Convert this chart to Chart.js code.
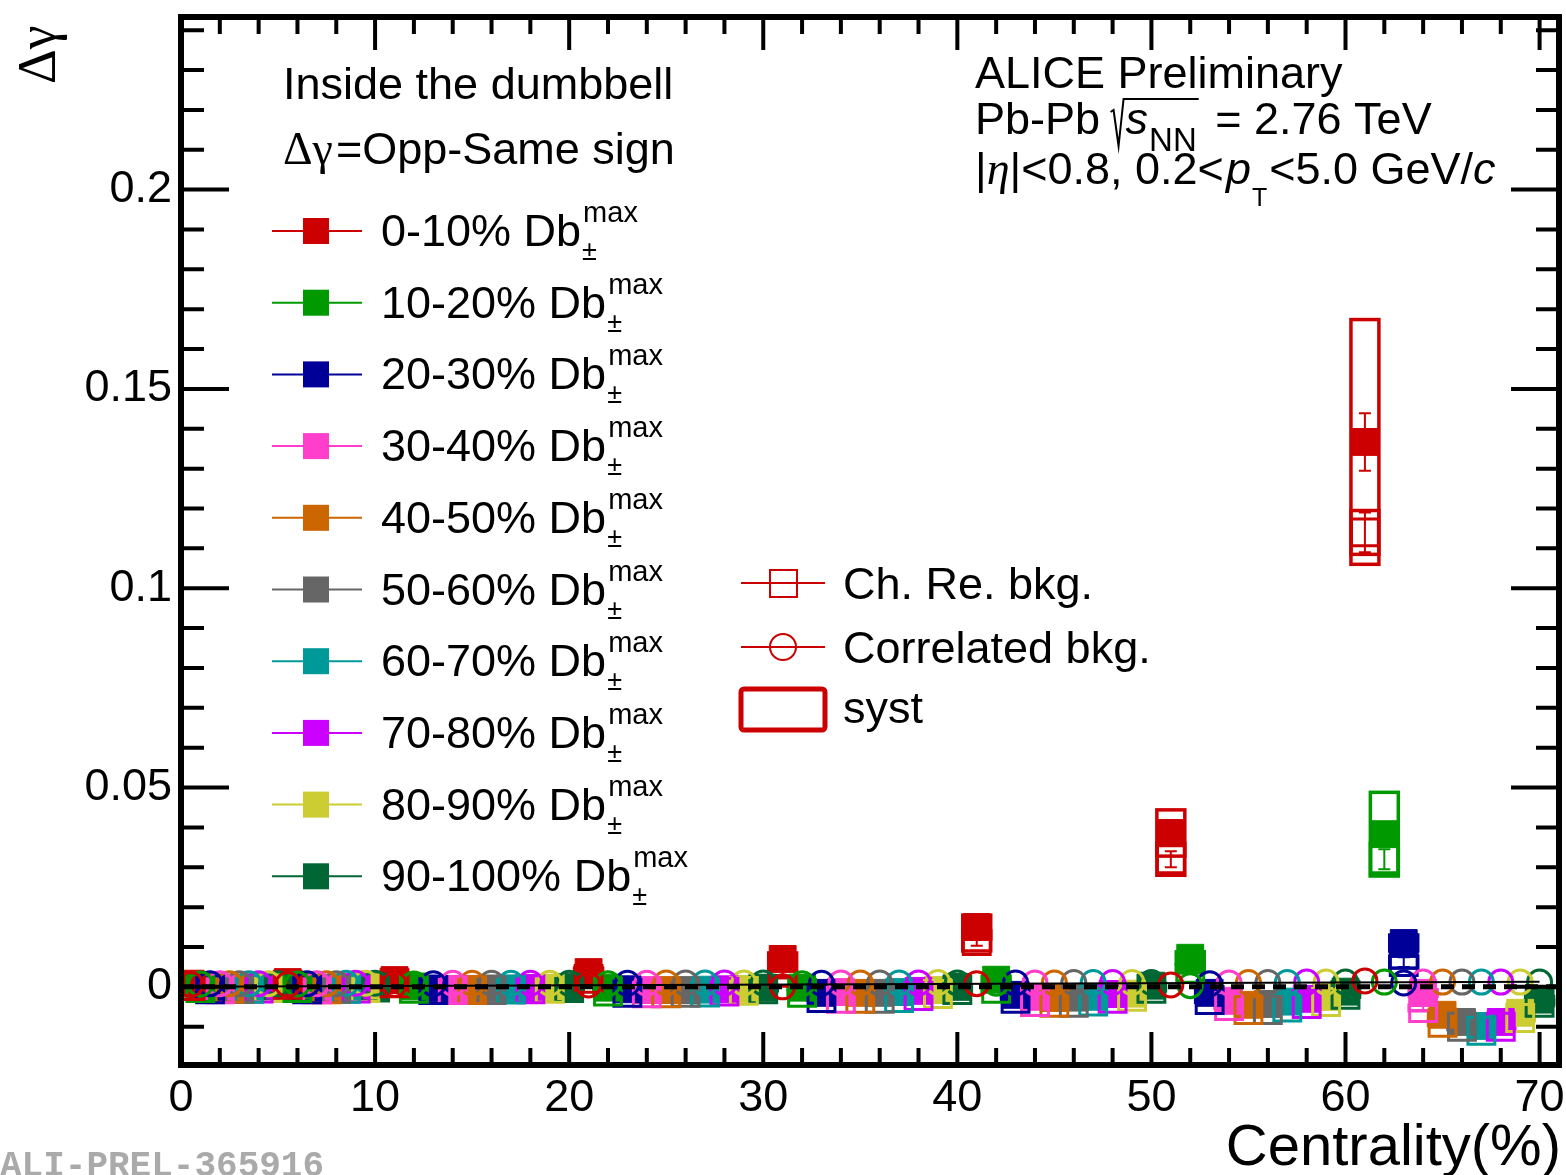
<!DOCTYPE html>
<html lang="en">
  <head>
    <meta charset="UTF-8" />
    <title>Delta gamma vs centrality</title>
    <script src="https://cdn.jsdelivr.net/npm/chart.js"></script>
    <style>
      html, body { margin: 0; padding: 0; background: #fff; overflow: hidden; }
      canvas { display: block; }
    </style>
  </head>
  <body>
    <canvas id="chart" width="1566" height="1175"></canvas>
    <script>
      // centrality bins, each split in 10 Db classes
      const centralityEdges = [0, 5, 10, 20, 30, 40, 50, 60, 70];
      const xTicks = [0, 10, 20, 30, 40, 50, 60, 70];
      const yTicks = [0, 0.05, 0.1, 0.15, 0.2];

      const classLabels = ["0-10%", "10-20%", "20-30%", "30-40%", "40-50%",
        "50-60%", "60-70%", "70-80%", "80-90%", "90-100%"];
      const classColors = ["#cc0000", "#009900", "#000099", "#ff3fcc", "#cc6600",
        "#666666", "#009999", "#cc00ff", "#cccc33", "#006633"];

      // Δγ (filled squares)
      const dGamma = [
        [0.0008, 0.0012, 0.0017, 0.0037, 0.0070, 0.0150, 0.0386, 0.1367],
        [0.0002, 0.0003, 0.0001, -0.0002, -0.0002, 0.0018, 0.0073, 0.0383],
        [-0.0002, -0.0002, -0.0004, -0.0006, -0.0015, -0.0020, -0.0015, 0.0110],
        [-0.0003, -0.0003, -0.0005, -0.0008, -0.0013, -0.0025, -0.0035, -0.0015],
        [-0.0002, -0.0003, -0.0005, -0.0008, -0.0015, -0.0028, -0.0045, -0.0070],
        [-0.0002, -0.0002, -0.0004, -0.0008, -0.0015, -0.0027, -0.0043, -0.0088],
        [-0.0002, -0.0002, -0.0004, -0.0007, -0.0013, -0.0025, -0.0037, -0.0098],
        [-0.0002, -0.0002, -0.0003, -0.0006, -0.0010, -0.0018, -0.0030, -0.0088],
        [-0.0001, -0.0001, -0.0002, -0.0005, -0.0008, -0.0017, -0.0025, -0.0065],
        [0.0000, 0.0000, -0.0001, -0.0002, 0.0000, 0.0003, -0.0012, -0.0032],
      ];
      const dgStat = [
        [0.0003, 0.0003, 0.0004, 0.0006, 0.0010, 0.0015, 0.0025, 0.0072],
        [0.0003, 0.0003, 0.0003, 0.0004, 0.0005, 0.0006, 0.0010, 0.0030],
        [0.0003, 0.0003, 0.0003, 0.0003, 0.0004, 0.0005, 0.0006, 0.0015],
        [0.0003, 0.0003, 0.0003, 0.0003, 0.0004, 0.0005, 0.0006, 0.0008],
        [0.0003, 0.0003, 0.0003, 0.0003, 0.0004, 0.0005, 0.0006, 0.0008],
        [0.0003, 0.0003, 0.0003, 0.0003, 0.0004, 0.0005, 0.0006, 0.0008],
        [0.0003, 0.0003, 0.0003, 0.0003, 0.0004, 0.0005, 0.0006, 0.0008],
        [0.0003, 0.0003, 0.0003, 0.0003, 0.0004, 0.0005, 0.0006, 0.0008],
        [0.0003, 0.0003, 0.0003, 0.0003, 0.0004, 0.0005, 0.0006, 0.0008],
        [0.0003, 0.0003, 0.0003, 0.0003, 0.0004, 0.0005, 0.0006, 0.0008],
      ];
      const dgSyst = [
        [0.0005, 0.0006, 0.0008, 0.0010, 0.0015, 0.0030, 0.0058, 0.0307],
        [0.0004, 0.0004, 0.0005, 0.0005, 0.0005, 0.0008, 0.0015, 0.0105],
        [0.0004, 0.0004, 0.0004, 0.0005, 0.0005, 0.0006, 0.0006, 0.0020],
        [0.0004, 0.0004, 0.0004, 0.0005, 0.0005, 0.0006, 0.0007, 0.0008],
        [0.0004, 0.0004, 0.0004, 0.0005, 0.0005, 0.0006, 0.0007, 0.0008],
        [0.0004, 0.0004, 0.0004, 0.0005, 0.0005, 0.0006, 0.0007, 0.0008],
        [0.0004, 0.0004, 0.0004, 0.0005, 0.0005, 0.0006, 0.0007, 0.0008],
        [0.0004, 0.0004, 0.0004, 0.0005, 0.0005, 0.0006, 0.0007, 0.0008],
        [0.0004, 0.0004, 0.0004, 0.0005, 0.0005, 0.0006, 0.0007, 0.0008],
        [0.0004, 0.0004, 0.0004, 0.0005, 0.0005, 0.0006, 0.0007, 0.0008],
      ];

      // Ch. Re. bkg (open squares)
      const chReBkg = [
        [0.0002, 0.0005, 0.0009, 0.0020, 0.0035, 0.0115, 0.0320, 0.1140],
        [-0.0003, -0.0003, -0.0005, -0.0012, -0.0015, -0.0005, 0.0045, 0.0320],
        [-0.0006, -0.0006, -0.0008, -0.0015, -0.0028, -0.0030, -0.0033, 0.0062],
        [-0.0006, -0.0006, -0.0008, -0.0016, -0.0030, -0.0038, -0.0048, -0.0053],
        [-0.0005, -0.0006, -0.0008, -0.0016, -0.0030, -0.0040, -0.0058, -0.0090],
        [-0.0005, -0.0005, -0.0008, -0.0015, -0.0030, -0.0040, -0.0058, -0.0100],
        [-0.0005, -0.0005, -0.0007, -0.0014, -0.0028, -0.0037, -0.0052, -0.0110],
        [-0.0004, -0.0004, -0.0006, -0.0012, -0.0023, -0.0030, -0.0043, -0.0100],
        [-0.0003, -0.0003, -0.0005, -0.0010, -0.0018, -0.0025, -0.0038, -0.0078],
        [-0.0002, -0.0002, -0.0003, -0.0006, -0.0008, -0.0005, -0.0020, -0.0040],
      ];
      const chStat = [
        [0.0003, 0.0003, 0.0003, 0.0005, 0.0008, 0.0012, 0.0020, 0.0050],
        [0.0003, 0.0003, 0.0003, 0.0003, 0.0004, 0.0005, 0.0008, 0.0025],
        [0.0003, 0.0003, 0.0003, 0.0003, 0.0003, 0.0004, 0.0005, 0.0012],
        [0.0003, 0.0003, 0.0003, 0.0003, 0.0003, 0.0004, 0.0005, 0.0006],
        [0.0003, 0.0003, 0.0003, 0.0003, 0.0003, 0.0004, 0.0005, 0.0006],
        [0.0003, 0.0003, 0.0003, 0.0003, 0.0003, 0.0004, 0.0005, 0.0006],
        [0.0003, 0.0003, 0.0003, 0.0003, 0.0003, 0.0004, 0.0005, 0.0006],
        [0.0003, 0.0003, 0.0003, 0.0003, 0.0003, 0.0004, 0.0005, 0.0006],
        [0.0003, 0.0003, 0.0003, 0.0003, 0.0003, 0.0004, 0.0005, 0.0006],
        [0.0003, 0.0003, 0.0003, 0.0003, 0.0003, 0.0004, 0.0005, 0.0006],
      ];
      const chSyst = [
        [0.0004, 0.0004, 0.0005, 0.0008, 0.0012, 0.0025, 0.0040, 0.0055],
        [0.0004, 0.0004, 0.0004, 0.0004, 0.0005, 0.0006, 0.0010, 0.0040],
        [0.0004, 0.0004, 0.0004, 0.0004, 0.0005, 0.0005, 0.0006, 0.0015],
        [0.0004, 0.0004, 0.0004, 0.0004, 0.0005, 0.0005, 0.0006, 0.0007],
        [0.0004, 0.0004, 0.0004, 0.0004, 0.0005, 0.0005, 0.0006, 0.0007],
        [0.0004, 0.0004, 0.0004, 0.0004, 0.0005, 0.0005, 0.0006, 0.0007],
        [0.0004, 0.0004, 0.0004, 0.0004, 0.0005, 0.0005, 0.0006, 0.0007],
        [0.0004, 0.0004, 0.0004, 0.0004, 0.0005, 0.0005, 0.0006, 0.0007],
        [0.0004, 0.0004, 0.0004, 0.0004, 0.0005, 0.0005, 0.0006, 0.0007],
        [0.0004, 0.0004, 0.0004, 0.0004, 0.0005, 0.0005, 0.0006, 0.0007],
      ];

      // Correlated bkg (open circles)
      const corrBkg = [
        [0.0006, 0.0006, 0.0006, 0.0005, 0.0000, 0.0008, 0.0005, 0.0015],
        [0.0007, 0.0007, 0.0007, 0.0008, 0.0008, 0.0009, 0.0003, 0.0012],
        [0.0008, 0.0008, 0.0008, 0.0009, 0.0009, 0.0010, 0.0008, 0.0010],
        [0.0008, 0.0008, 0.0009, 0.0009, 0.0010, 0.0010, 0.0010, 0.0012],
        [0.0008, 0.0008, 0.0009, 0.0010, 0.0010, 0.0010, 0.0011, 0.0012],
        [0.0008, 0.0008, 0.0009, 0.0010, 0.0010, 0.0011, 0.0011, 0.0012],
        [0.0008, 0.0009, 0.0009, 0.0010, 0.0010, 0.0011, 0.0011, 0.0012],
        [0.0008, 0.0009, 0.0009, 0.0010, 0.0010, 0.0011, 0.0012, 0.0012],
        [0.0008, 0.0009, 0.0009, 0.0010, 0.0011, 0.0011, 0.0012, 0.0012],
        [0.0008, 0.0009, 0.0009, 0.0010, 0.0010, 0.0011, 0.0012, 0.0012],
      ];

      // thin solid reference line and dashed zero line
      const refLineX = [0, 70];
      const refLineY = [0, 0.0013];
      const zeroLevel = 0;

      const SANS = "'Liberation Sans', Arial, Helvetica, sans-serif";
      const SERIF = "'Liberation Serif', 'Times New Roman', serif";

      function classX(bin, k) {
        const lo = centralityEdges[bin];
        const hi = centralityEdges[bin + 1];
        return lo + ((k + 1) * (hi - lo)) / 10;
      }

      function points(values, k) {
        return values[k].map((v, b) => ({ x: classX(b, k), y: v }));
      }

      const datasets = [];
      // circles on top, then open squares, then filled squares; class 0 topmost
      classColors.forEach((c, k) => {
        datasets.push({
          data: points(corrBkg, k), order: 0, pointStyle: "circle",
          pointRadius: 12, pointBorderWidth: 3, pointBorderColor: c,
          pointBackgroundColor: "rgba(0,0,0,0)", showLine: false,
        });
      });
      classColors.forEach((c, k) => {
        datasets.push({
          data: points(chReBkg, k), order: 1, pointStyle: "rect",
          pointRadius: 19, pointBorderWidth: 3, pointBorderColor: c,
          pointBackgroundColor: "rgba(0,0,0,0)", showLine: false,
        });
      });
      classColors.forEach((c, k) => {
        datasets.push({
          data: points(dGamma, k), order: 2, pointStyle: "rect",
          pointRadius: 19, pointBorderWidth: 1, pointBorderColor: c,
          pointBackgroundColor: c, showLine: false,
        });
      });

      function drawRuns(ctx, x, y, parts) {
        for (const p of parts) {
          ctx.font = p.font;
          ctx.fillText(p.text, x, y + (p.dy || 0));
          x += ctx.measureText(p.text).width + (p.dx || 0);
        }
        return x;
      }

      const rootStyle = {
        id: "rootStyle",
        beforeDatasetsDraw(chart) {
          const { ctx, chartArea: a, scales: { x, y } } = chart;
          ctx.save();
          ctx.beginPath();
          ctx.rect(a.left, a.top, a.right - a.left, a.bottom - a.top);
          ctx.clip();
          for (let k = classColors.length - 1; k >= 0; k--) {
            ctx.strokeStyle = classColors[k];
            for (let b = 0; b < centralityEdges.length - 1; b++) {
              const xc = classX(b, k);
              const x0 = x.getPixelForValue(xc - 0.72);
              const x1 = x.getPixelForValue(xc + 0.72);
              const px = x.getPixelForValue(xc);
              [[dGamma, dgSyst, dgStat], [chReBkg, chSyst, chStat]].forEach(([v, s, e]) => {
                const val = v[k][b];
                ctx.lineWidth = 3.5;
                const top = y.getPixelForValue(val + s[k][b]);
                const bot = y.getPixelForValue(val - s[k][b]);
                ctx.strokeRect(x0, top, x1 - x0, bot - top);
                const et = y.getPixelForValue(val + e[k][b]);
                const eb = y.getPixelForValue(val - e[k][b]);
                ctx.lineWidth = 2;
                ctx.beginPath();
                ctx.moveTo(px, et); ctx.lineTo(px, eb);
                ctx.moveTo(px - 6, et); ctx.lineTo(px + 6, et);
                ctx.moveTo(px - 6, eb); ctx.lineTo(px + 6, eb);
                ctx.stroke();
              });
            }
          }
          ctx.restore();
        },
        afterDatasetsDraw(chart) {
          const { ctx, chartArea: a, scales: { x, y } } = chart;
          ctx.save();
          // reference lines
          ctx.strokeStyle = "#000";
          ctx.lineWidth = 2;
          ctx.beginPath();
          ctx.moveTo(x.getPixelForValue(refLineX[0]), y.getPixelForValue(refLineY[0]));
          ctx.lineTo(x.getPixelForValue(refLineX[1]), y.getPixelForValue(refLineY[1]));
          ctx.stroke();
          ctx.lineWidth = 5;
          ctx.setLineDash([13, 8]);
          ctx.beginPath();
          ctx.moveTo(a.left, y.getPixelForValue(zeroLevel));
          ctx.lineTo(a.right, y.getPixelForValue(zeroLevel));
          ctx.stroke();
          ctx.setLineDash([]);

          // ticks
          ctx.lineWidth = 4;
          ctx.beginPath();
          for (let i = -1; i <= 24; i++) {
            const py = y.getPixelForValue(i * 0.01);
            if (py < a.top + 2 || py > a.bottom - 2) continue;
            const len = i % 5 === 0 ? 48 : 23;
            ctx.moveTo(a.left, py); ctx.lineTo(a.left + len, py);
            ctx.moveTo(a.right, py); ctx.lineTo(a.right - len, py);
          }
          for (let v = 2; v <= 70; v += 2) {
            const px = x.getPixelForValue(v);
            const len = v % 10 === 0 ? 33 : 17;
            ctx.moveTo(px, a.bottom); ctx.lineTo(px, a.bottom - len);
            ctx.moveTo(px, a.top); ctx.lineTo(px, a.top + len);
          }
          ctx.stroke();

          // frame
          ctx.lineWidth = 6;
          ctx.strokeRect(a.left, a.top, a.right - a.left, a.bottom - a.top);

          // x tick labels
          ctx.fillStyle = "#000";
          ctx.font = "45px " + SANS;
          ctx.textAlign = "center";
          ctx.textBaseline = "alphabetic";
          xTicks.forEach((v) => ctx.fillText(String(v), x.getPixelForValue(v), a.bottom + 46));
          ctx.restore();
        },
        afterDraw(chart) {
          const { ctx } = chart;
          ctx.save();
          ctx.fillStyle = "#000";
          ctx.textAlign = "left";
          ctx.textBaseline = "alphabetic";

          // axis titles
          ctx.save();
          ctx.translate(55, 84);
          ctx.rotate(-Math.PI / 2);
          ctx.font = "54px " + SERIF;
          ctx.fillText("Δγ", 0, 0);
          ctx.restore();
          ctx.font = "58px " + SANS;
          ctx.textAlign = "right";
          ctx.fillText("Centrality(%)", 1561, 1165);
          ctx.textAlign = "left";

          // header of left legend
          const f45 = "45px " + SANS;
          drawRuns(ctx, 283, 99, [{ text: "Inside the dumbbell", font: f45 }]);
          drawRuns(ctx, 283, 164, [
            { text: "Δγ", font: "46px " + SERIF, dx: 3 },
            { text: "=Opp-Same sign", font: f45 },
          ]);

          // left legend entries
          classLabels.forEach((lab, k) => {
            const cy = 231 + k * 71.7;
            ctx.strokeStyle = classColors[k];
            ctx.lineWidth = 2;
            ctx.beginPath();
            ctx.moveTo(272, cy); ctx.lineTo(362, cy);
            ctx.stroke();
            ctx.fillStyle = classColors[k];
            ctx.fillRect(303, cy - 13, 26, 26);
            ctx.fillStyle = "#000";
            const xe = drawRuns(ctx, 381, cy + 15, [{ text: lab + " Db", font: f45 }]);
            ctx.font = "29px " + SANS;
            ctx.fillText("max", xe + 2, cy - 9);
            ctx.font = "27px " + SANS;
            ctx.fillText("±", xe + 1, cy + 29);
          });

          // middle legend
          ctx.strokeStyle = "#cc0000";
          ctx.lineWidth = 2;
          ctx.beginPath();
          ctx.moveTo(741, 583); ctx.lineTo(825, 583);
          ctx.moveTo(741, 647); ctx.lineTo(825, 647);
          ctx.stroke();
          ctx.strokeRect(770, 570, 27, 27);
          ctx.beginPath();
          ctx.arc(783, 647, 13, 0, Math.PI * 2);
          ctx.stroke();
          ctx.lineWidth = 5;
          ctx.beginPath();
          ctx.roundRect(741, 689, 84, 41, 3);
          ctx.stroke();
          ctx.font = f45;
          ctx.fillText("Ch. Re. bkg.", 843, 599);
          ctx.fillText("Correlated bkg.", 843, 663);
          ctx.fillText("syst", 843, 723);

          // top-right labels
          ctx.font = f45;
          ctx.fillText("ALICE Preliminary", 975, 88);
          let xr = drawRuns(ctx, 975, 134, [{ text: "Pb-Pb ", font: f45, dx: -2 }]);
          ctx.font = "italic 45px " + SANS;
          const sw = ctx.measureText("s").width;
          ctx.font = "33px " + SANS;
          const nw = ctx.measureText("NN").width;
          ctx.strokeStyle = "#000";
          ctx.lineWidth = 2;
          ctx.beginPath();
          ctx.moveTo(xr, 112);
          ctx.lineTo(xr + 3, 110);
          ctx.lineTo(xr + 8, 146);
          ctx.lineTo(xr + 13, 99);
          ctx.lineTo(xr + 16 + sw + nw + 2, 99);
          ctx.stroke();
          drawRuns(ctx, xr + 15, 134, [
            { text: "s", font: "italic 45px " + SANS, dx: 1 },
            { text: "NN", font: "33px " + SANS, dy: 17, dx: 6 },
            { text: " = 2.76 TeV", font: f45 },
          ]);
          drawRuns(ctx, 975, 184, [
            { text: "|", font: f45 },
            { text: "η", font: "italic 46px " + SERIF },
            { text: "|<0.8, 0.2<", font: f45, dx: 2 },
            { text: "p", font: "italic 45px " + SANS, dx: 1 },
            { text: "T", font: "25px " + SANS, dy: 22, dx: 2 },
            { text: "<5.0 GeV/", font: f45 },
            { text: "c", font: "italic 45px " + SANS },
          ]);

          // figure id
          ctx.fillStyle = "#aaaaaa";
          ctx.font = "bold 36px 'Liberation Mono', 'DejaVu Sans Mono', monospace";
          ctx.fillText("ALI-PREL-365916", 0, 1176);
          ctx.restore();
        },
      };

      new Chart(document.getElementById("chart"), {
        type: "scatter",
        data: { datasets },
        options: {
          responsive: false,
          animation: false,
          devicePixelRatio: 1,
          layout: { autoPadding: false, padding: { left: 0, top: 17, right: 7, bottom: 0 } },
          plugins: { legend: { display: false }, tooltip: { enabled: false } },
          scales: {
            x: {
              type: "linear",
              min: 0,
              max: 71,
              afterBuildTicks: (s) => { s.ticks = xTicks.map((v) => ({ value: v })); },
              afterFit: (s) => {
                s.height = 110;
                s.paddingLeft = 0; s.paddingRight = 0;
              },
              grid: { display: false, drawTicks: false },
              border: { display: false },
              ticks: { display: false },
            },
            y: {
              type: "linear",
              min: -0.0196,
              max: 0.2433,
              afterBuildTicks: (s) => { s.ticks = yTicks.map((v) => ({ value: v })); },
              afterFit: (s) => {
                s.width = 181;
                s.paddingTop = 0; s.paddingBottom = 0;
              },
              grid: { display: false, drawTicks: false },
              border: { display: false },
              ticks: {
                color: "#000",
                padding: 9,
                autoSkip: false,
                font: { family: SANS, size: 45 },
                callback: (v) => String(Math.round(v * 100) / 100),
              },
            },
          },
        },
        plugins: [rootStyle],
      });
    </script>
  </body>
</html>
